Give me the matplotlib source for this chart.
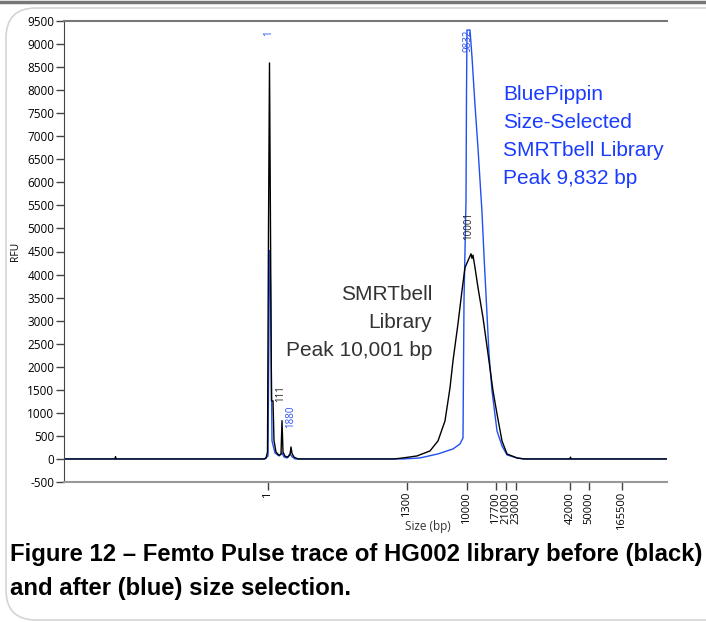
import matplotlib.pyplot as plt
from matplotlib.patches import FancyBboxPatch
from matplotlib.lines import Line2D

plt.rcParams['axes.unicode_minus'] = False

# migration position (arbitrary units along the run) and RFU
black_x = [0, 51, 51.5, 52, 200, 202, 203.5, 204.5, 205.5, 206.5, 207.5, 209, 210, 212, 215, 217, 218, 219,
           221, 224, 226, 227, 228, 230, 234, 330, 339, 353, 366, 374, 381, 386, 389, 394, 398, 401, 405,
           407, 408, 409, 411, 414, 419, 424, 429, 433, 438, 443, 453, 460, 506, 506.5, 507, 603]
black_y = [0, 0, 50, 0, 0, 20, 150, 4960, 8590, 4960, 1260, 1260, 400, 150, 80, 100, 830, 150,
           60, 40, 100, 260, 120, 40, 0, 0, 22, 65, 174, 391, 826, 1543, 2130, 2935, 3652, 4152, 4350,
           4450, 4350, 4420, 4152, 3717, 3065, 2283, 1478, 978, 391, 109, 22, 0, 0, 40, 0, 0]

blue_x = [0, 201, 204, 205.5, 206.5, 208, 211, 215, 218, 220, 223, 226, 228, 231, 339, 356, 374, 389,
          396, 399, 400, 402, 402.5, 403, 406, 408, 411, 414, 418, 420, 425, 428, 433, 438, 443, 453, 460, 603]
blue_y = [0, 0, 65, 4520, 3800, 391, 130, 65, 130, 43, 20, 109, 50, 0, 0, 22, 109, 217,
          326, 457, 3435, 5609, 7935, 9304, 9304, 8717, 7674, 6739, 5348, 4413, 2283, 1478, 609, 283, 87, 22, 0, 0]

size_ticks = [204, 343, 403, 432, 442, 452, 506, 525, 558]
size_labels = ['1', '1300', '10000', '17700', '21000', '23000', '42000', '50000', '165500']

peak_labels = [('1', 205, 9230, '#2a50f0'), ('9832', 404, 9065, '#2a50f0'),
               ('10001', 405, 5065, '#222222'), ('111', 217, 1413, '#222222'),
               ('1880', 227, 913, '#2a50f0')]

blue_note = ['BluePippin', 'Size-Selected', 'SMRTbell Library', 'Peak 9,832 bp']
black_note = ['SMRTbell', 'Library', 'Peak 10,001 bp']

W, H = 706, 622
fig = plt.figure(figsize=(W / 100, H / 100), dpi=100)
ax = fig.add_axes([64 / W, 1 - 482 / H, 603 / W, 461 / H])

ax.plot(blue_x, blue_y, color='#2050f0', lw=1.0)
ax.plot(black_x, black_y, color='black', lw=1.0)

ax.set_xlim(0, 603)
ax.set_ylim(-500, 9500)
ax.set_yticks(range(-500, 9501, 500))
ax.set_xticks(size_ticks)
ax.set_xticklabels(size_labels, rotation=90, fontsize=8, family='Open Sans')
for lab in ax.get_yticklabels():
    lab.set_family('Open Sans')
    lab.set_fontsize(8.5)
ax.tick_params(axis='y', length=6, width=1, color='#444444', pad=1)
ax.tick_params(axis='x', length=6, width=1, color='#444444', pad=1)
ax.spines['right'].set_visible(False)
ax.spines['top'].set_color('#777777')
ax.spines['bottom'].set_color('#999999')
ax.spines['left'].set_color('#444444')
ax.spines['top'].set_linewidth(1.5)
ax.spines['bottom'].set_linewidth(1.5)

ax.set_xlabel('Size (bp)', fontsize=8.5, family='Open Sans', color='#333333')
ax.xaxis.set_label_coords(0.604, -0.083)
ax.set_ylabel('RFU', fontsize=7.5, family='Open Sans')
ax.yaxis.set_label_coords(-0.072, 0.5)

for txt, x, y, c in peak_labels:
    ax.text(x, y, txt, rotation=90, ha='center', va='center', fontsize=7, color=c, family='Open Sans')

# callouts, one baseline per line (28 px apart)
for i, line in enumerate(blue_note):
    ax.text(439, 7783 - i * 608, line, color='#1a3cff', fontsize=15, family='Liberation Sans',
            ha='left', va='baseline')
for i, line in enumerate(black_note):
    ax.text(368, 3457 - i * 608, line, color='#333333', fontsize=15, family='Liberation Sans',
            ha='right', va='baseline')

# caption
fig.text(10 / W, 1 - 561 / H, 'Figure 12 \u2013 Femto Pulse trace of HG002 library before (black)',
         fontsize=17.2, fontweight='bold', family='Liberation Sans', va='baseline')
fig.text(10 / W, 1 - 595 / H, 'and after (blue) size selection.',
         fontsize=17.2, fontweight='bold', family='Liberation Sans', va='baseline')

# rounded frame and top rule of the page
fig.add_artist(FancyBboxPatch((6, 2), 740, 612, boxstyle='round,pad=0,rounding_size=30',
                              transform=None, fill=False, edgecolor='#d4d4d4', lw=1.2))
fig.add_artist(Line2D([0, 1], [1 - 1.5 / H] * 2, color='#777777', lw=2.5))

fig.savefig('out.png', dpi=100)
